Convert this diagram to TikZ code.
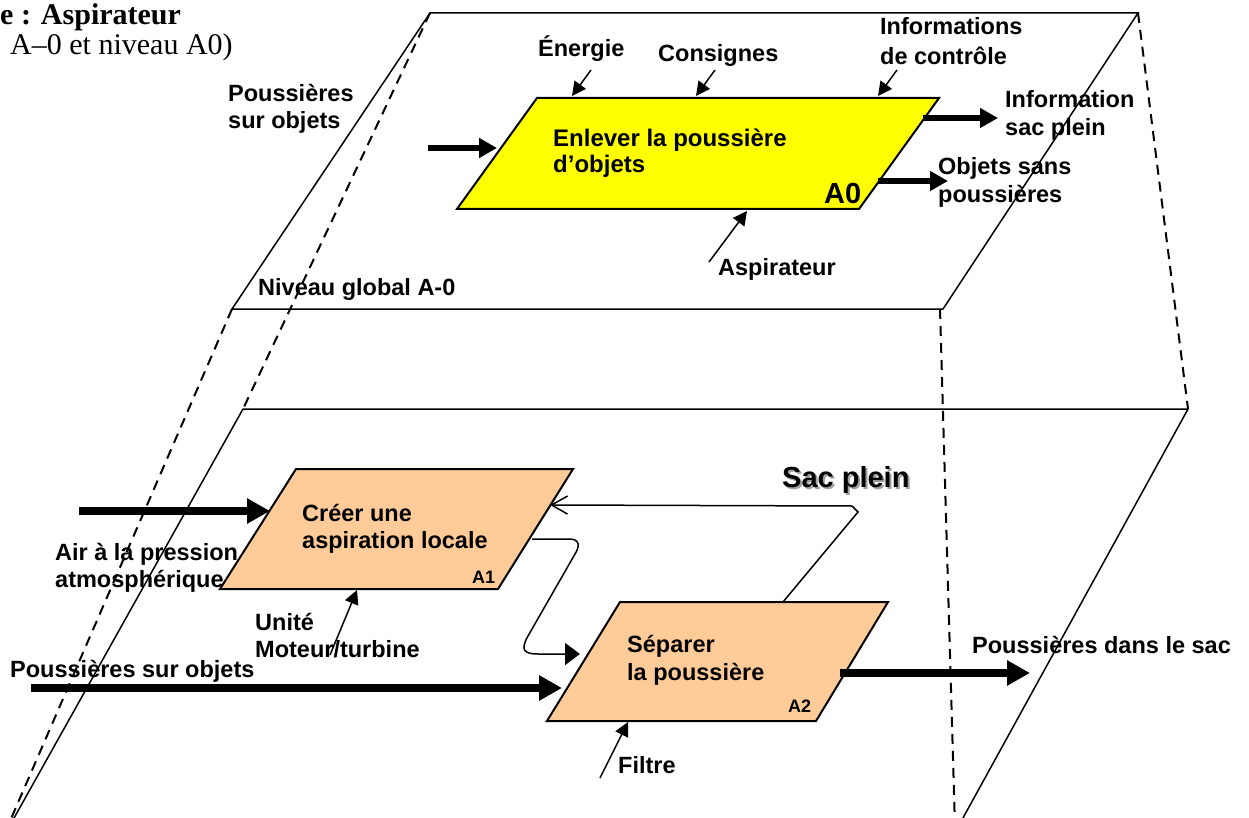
\documentclass[tikz,border=0pt]{standalone}
\usepackage{fontspec}
\setmainfont{Liberation Sans}
\newfontfamily\titleserif{Liberation Serif}
\usetikzlibrary{arrows.meta}
\definecolor{aoyellow}{RGB}{255,255,0}
\definecolor{aorange}{RGB}{255,204,153}
\definecolor{shadowgray}{RGB}{160,160,160}
\begin{document}
\begin{tikzpicture}[x=1pt,y=-1pt,
  plane/.style={line width=1.5pt},
  guide/.style={line width=2pt, dash pattern=on 10pt off 7pt},
  fbox/.style={line width=2pt, draw=black},
  lbl/.style={font=\bfseries\fontsize{23.5}{27}\selectfont, inner sep=0pt, anchor=base west, align=left},
  lblbig/.style={font=\bfseries\fontsize{29}{34}\selectfont, inner sep=0pt, anchor=base west},
  lblsmall/.style={font=\bfseries\fontsize{18}{22}\selectfont, inner sep=0pt, anchor=base west},
  thinarrow/.style={line width=1.5pt, -{Triangle[length=14pt,width=14pt]}},
  thickA/.style={line width=6.5pt, -{Triangle[length=18pt,width=19pt]}},
  thickB/.style={line width=8pt, -{Triangle[length=23pt,width=24pt]}},
]
\clip (0,0) rectangle (1249,818);
\useasboundingbox (0,0) rectangle (1249,818);

% ---------- planes ----------
\coordinate (P1tl) at (430,13);  \coordinate (P1tr) at (1138,13);
\coordinate (P1br) at (943,309); \coordinate (P1bl) at (232,309);
\coordinate (P2tl) at (243,409); \coordinate (P2tr) at (1188,409);
\coordinate (P2br) at (958,827); \coordinate (P2bl) at (9,827);
\draw[plane] (P1tl) -- (P1tr) -- (P1br) -- (P1bl) -- cycle;
\draw[plane] (P2bl) -- (P2tl) -- (P2tr) -- (P2br);

% dashed guides
\coordinate (G1e) at (7,828);
\coordinate (G2s) at (940,309); \coordinate (G2e) at (955,828);
\draw[guide] (P1tl) -- (P2tl);
\draw[guide] (P1bl) -- (G1e);
\draw[guide] (P1tr) -- (P2tr);
\draw[guide] (G2s) -- (G2e);

% ---------- title ----------
\node[font=\titleserif\bfseries\fontsize{30}{36}\selectfont, anchor=base west, inner sep=0pt] (title1) at (0,25) {e : Aspirateur};
\node[font=\titleserif\fontsize{30}{36}\selectfont, anchor=base west, inner sep=0pt] (title2) at (10,55) {A–0 et niveau A0)};

% ---------- A0 ----------
\coordinate (A0tl) at (537,98); \coordinate (A0tr) at (939,98);
\coordinate (A0br) at (859,209); \coordinate (A0bl) at (457,209);
\draw[fbox, fill=aoyellow] (A0tl) -- (A0tr) -- (A0br) -- (A0bl) -- cycle;
\node[lbl, font=\bfseries\fontsize{24}{26}\selectfont] (A0txt) at (553,173) {Enlever la poussière\\d’objets};
\node[lblbig] (A0lab) at (824,204) {A0};

\node[lbl] (poussA0) at (228,129) {Poussières\\sur objets};
\node[lbl] (energie) at (538,57) {Énergie};
\node[lbl] (consignes) at (658,62) {Consignes};
\node[lbl, font=\bfseries\fontsize{23.5}{30}\selectfont] (infoctrl) at (880,65) {Informations\\de contrôle};
\node[lbl, font=\bfseries\fontsize{23.5}{28}\selectfont] (infosac) at (1005,136) {Information\\sac plein};
\node[lbl, font=\bfseries\fontsize{23.5}{28}\selectfont] (objsans) at (938,203) {Objets sans\\poussières};
\node[lbl] (aspi) at (718,275) {Aspirateur};
\node[lbl] (niveau) at (258,295) {Niveau global A-0};

\coordinate (inA0s) at (428,148);  \coordinate (inA0e) at (497,148);
\coordinate (enS) at (591,70);     \coordinate (enE) at (572,96);
\coordinate (coS) at (715,70);     \coordinate (coE) at (696,96);
\coordinate (icS) at (897,70);     \coordinate (icE) at (878,96);
\coordinate (o1S) at (923,118);    \coordinate (o1E) at (998,118);
\coordinate (o2S) at (878,181);    \coordinate (o2E) at (948,181);
\coordinate (asS) at (709,262);    \coordinate (asE) at (747,211);
\draw[thickA] (inA0s) -- (inA0e);
\draw[thinarrow] (enS) -- (enE);
\draw[thinarrow] (coS) -- (coE);
\draw[thinarrow] (icS) -- (icE);
\draw[thickA] (o1S) -- (o1E);
\draw[thickA] (o2S) -- (o2E);
\draw[thinarrow] (asS) -- (asE);

% ---------- A1 ----------
\coordinate (A1tl) at (296,469); \coordinate (A1tr) at (573,469);
\coordinate (A1br) at (498,589); \coordinate (A1bl) at (220,589);
\draw[fbox, fill=aorange] (A1tl) -- (A1tr) -- (A1br) -- (A1bl) -- cycle;
\node[lbl] (A1txt) at (302,548) {Créer une\\aspiration locale};
\node[lblsmall] (A1lab) at (472,583) {A1};

% ---------- A2 ----------
\coordinate (A2tl) at (620,602); \coordinate (A2tr) at (888,602);
\coordinate (A2br) at (816,721); \coordinate (A2bl) at (547,721);
\draw[fbox, fill=aorange] (A2tl) -- (A2tr) -- (A2br) -- (A2bl) -- cycle;
\node[lbl, font=\bfseries\fontsize{23.5}{28}\selectfont] (A2txt) at (627,680) {Séparer\\la poussière};
\node[lblsmall] (A2lab) at (788,712) {A2};

% lower labels
\node[lbl] (air) at (55,587) {Air à la pression\\atmosphérique};
\node[lbl] (unite) at (255,657) {Unité\\Moteur/turbine};
\node[lbl] (poussB) at (10,677) {Poussières sur objets};
\node[lbl] (filtre) at (618,773) {Filtre};
\node[lbl] (pdsac) at (972,653) {Poussières dans le sac};
\node[lblbig, text=shadowgray] (sacshadow) at (784,489) {Sac plein};
\node[lblbig] (sacplein) at (782,487) {Sac plein};

% lower arrows
\coordinate (airS) at (79,511);   \coordinate (airE) at (270,511);
\coordinate (unS) at (330,655);   \coordinate (unE) at (357,590);
\coordinate (pbS) at (31,688);    \coordinate (pbE) at (562,688);
\coordinate (fiS) at (600,778);   \coordinate (fiE) at (628,722);
\coordinate (outS) at (840,673);  \coordinate (outE) at (1030,673);
\draw[thickB] (airS) -- (airE);
\draw[thinarrow] (unS) -- (unE);
\draw[thickB] (pbS) -- (pbE);
\draw[thinarrow] (fiS) -- (fiE);
\draw[thickB] (outS) -- (outE);

% A1 -> A2 curved connector
\coordinate (c1S) at (532,539); \coordinate (c1E) at (580,654);
\draw[line width=1.5pt, -{Triangle[length=15pt,width=22pt]}]
  (c1S) -- (569,539) .. controls (580,539) and (580,546) .. (575,554)
  -- (528,636) .. controls (520,650) and (524,654) .. (538,654) -- (c1E);

% feedback Sac plein
\coordinate (fbS) at (783,602); \coordinate (fbE) at (550,505);
\draw[line width=1.5pt, -{Straight Barb[length=16pt,width=18pt]}]
  (fbS) -- (858,512) -- (852,506) -- (fbE);
\end{tikzpicture}
\end{document}
